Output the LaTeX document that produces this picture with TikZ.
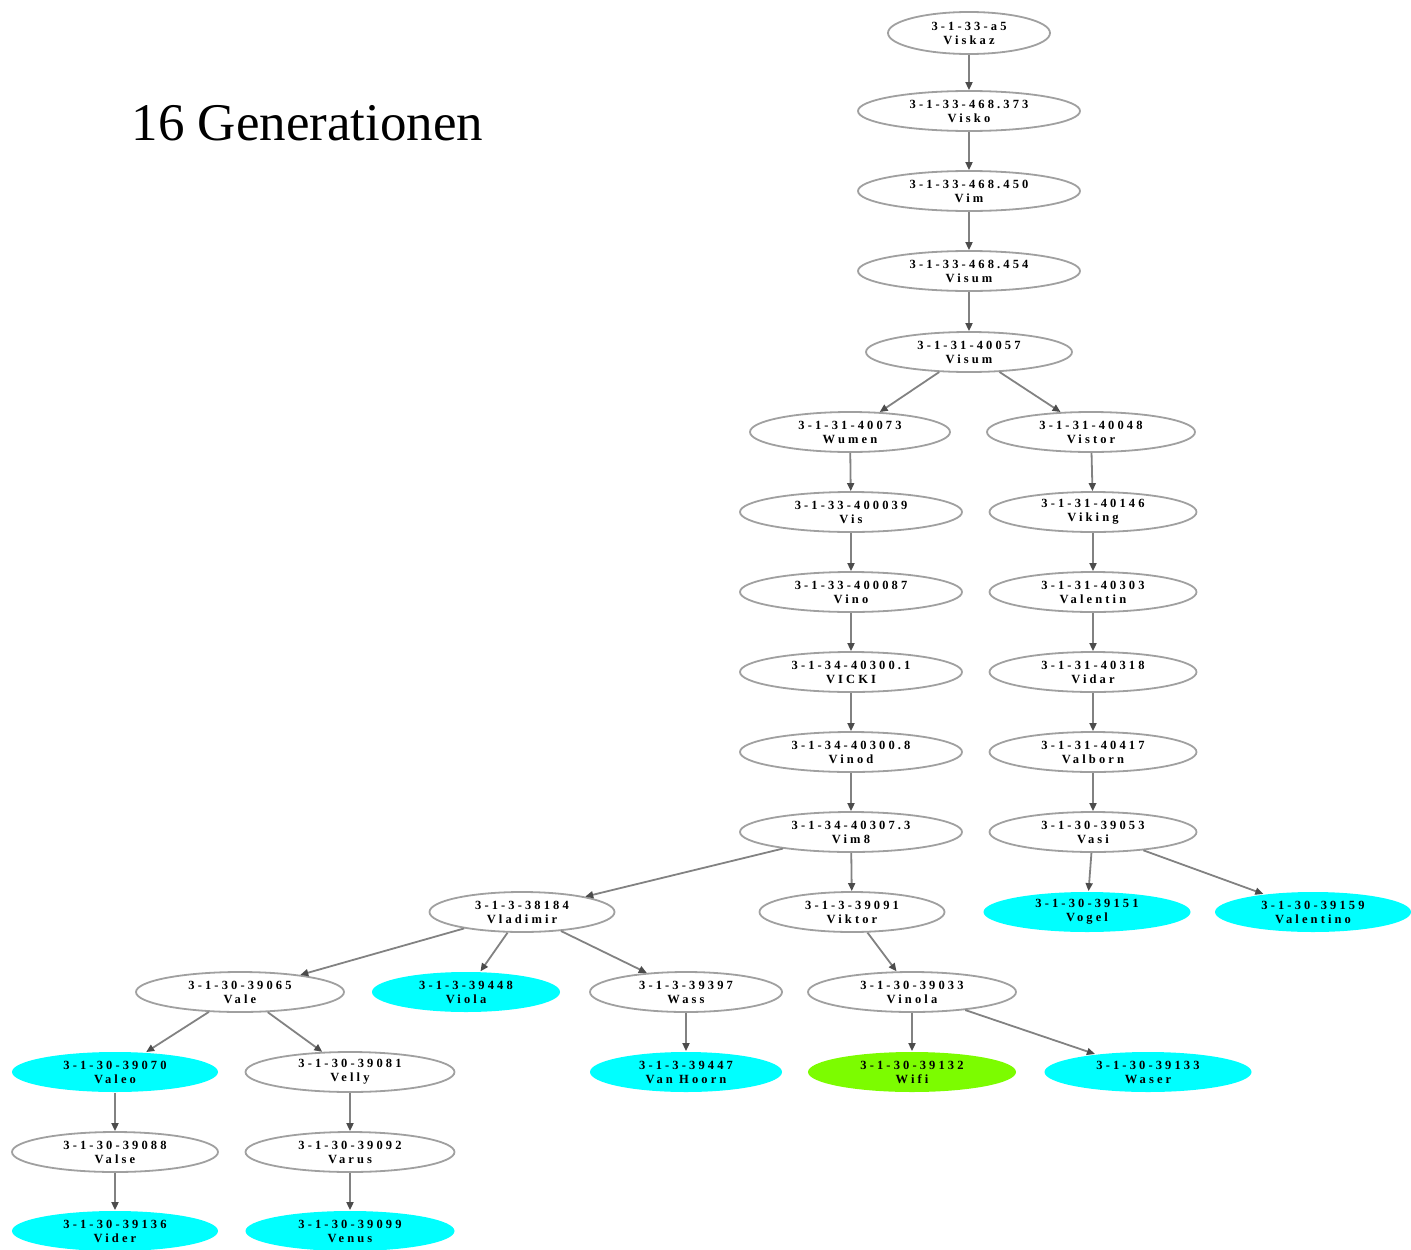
\documentclass[tikz,border=0pt]{standalone}
\usepackage{fontspec}
\setmainfont{Liberation Serif}
\newfontfamily\nf[LetterSpace=25]{Liberation Serif}
\usetikzlibrary{shapes.geometric,arrows.meta}
\definecolor{lcyan}{RGB}{0,255,255}
\definecolor{lgreen}{RGB}{124,252,0}
\definecolor{egray}{RGB}{130,130,130}
\definecolor{bgray}{RGB}{160,160,160}
\begin{document}
\begin{tikzpicture}[x=1pt,y=-1pt,
  ell/.style={ellipse, draw=bgray, line width=1.8pt, minimum height=40pt, inner sep=0pt,
    align=center, font=\nf\bfseries\fontsize{12.5}{14}\selectfont},
  leaf/.style={ell, draw=none, fill=lcyan},
  gleaf/.style={ell, draw=none, fill=lgreen},
  edge/.style={draw=egray, line width=1.8pt, -{Triangle[length=8pt,width=7pt,color=black!70]}}]
\useasboundingbox (0,0) rectangle (1411,1250);
\node[anchor=base west, font=\fontsize{53}{60}\selectfont] (title) at (128,140) {16 Generationen};
% main chain
\node[ell, minimum width=162pt, minimum height=42pt] (a1) at (969,33) {3-1-33-a5\\Viskaz};
\node[ell, minimum width=222pt] (a2) at (969,111) {3-1-33-468.373\\Visko};
\node[ell, minimum width=222pt] (a3) at (969,191) {3-1-33-468.450\\Vim};
\node[ell, minimum width=222pt] (a4) at (969,271) {3-1-33-468.454\\Visum};
\node[ell, minimum width=206pt] (a5) at (969,352) {3-1-31-40057\\Visum};
% left branch
\node[ell, minimum width=200pt] (l1) at (850,432) {3-1-31-40073\\Wumen};
\node[ell, minimum width=222pt] (l2) at (851,512) {3-1-33-400039\\Vis};
\node[ell, minimum width=222pt] (l3) at (851,592) {3-1-33-400087\\Vino};
\node[ell, minimum width=222pt] (l4) at (851,672) {3-1-34-40300.1\\VICKI};
\node[ell, minimum width=222pt] (l5) at (851,752) {3-1-34-40300.8\\Vinod};
\node[ell, minimum width=222pt] (l6) at (851,832) {3-1-34-40307.3\\Vim8};
% right branch
\node[ell, minimum width=208pt] (r1) at (1091,432) {3-1-31-40048\\Vistor};
\node[ell, minimum width=207pt] (r2) at (1093,512) {3-1-31-40146\\Viking};
\node[ell, minimum width=207pt] (r3) at (1093,592) {3-1-31-40303\\Valentin};
\node[ell, minimum width=207pt] (r4) at (1093,672) {3-1-31-40318\\Vidar};
\node[ell, minimum width=207pt] (r5) at (1093,752) {3-1-31-40417\\Valborn};
\node[ell, minimum width=207pt] (r6) at (1093,832) {3-1-30-39053\\Vasi};
\node[leaf, minimum width=207pt] (r7) at (1087,912) {3-1-30-39151\\Vogel};
\node[leaf, minimum width=196pt] (r8) at (1313,912) {3-1-30-39159\\Valentino};
% lower part
\node[ell, minimum width=185pt] (b1) at (522,912) {3-1-3-38184\\Vladimir};
\node[ell, minimum width=185pt] (b2) at (852,912) {3-1-3-39091\\Viktor};
\node[ell, minimum width=208pt] (c1) at (240,992) {3-1-30-39065\\Vale};
\node[leaf, minimum width=188pt] (c2) at (466,992) {3-1-3-39448\\Viola};
\node[ell, minimum width=192pt] (c3) at (686,992) {3-1-3-39397\\Wass};
\node[ell, minimum width=208pt] (c4) at (912,992) {3-1-30-39033\\Vinola};
\node[leaf, minimum width=206pt] (d1) at (115,1072) {3-1-30-39070\\Valeo};
\node[ell, minimum width=209pt] (d2) at (350,1072) {3-1-30-39081\\Velly};
\node[leaf, minimum width=192pt] (d3) at (686,1072) {3-1-3-39447\\Van Hoorn};
\node[gleaf, minimum width=208pt] (d4) at (912,1072) {3-1-30-39132\\Wifi};
\node[leaf, minimum width=207pt] (d5) at (1148,1072) {3-1-30-39133\\Waser};
\node[ell, minimum width=206pt] (e1) at (115,1152) {3-1-30-39088\\Valse};
\node[ell, minimum width=209pt] (e2) at (350,1152) {3-1-30-39092\\Varus};
\node[leaf, minimum width=206pt] (f1) at (115,1231) {3-1-30-39136\\Vider};
\node[leaf, minimum width=209pt] (f2) at (350,1231) {3-1-30-39099\\Venus};
% edges
\foreach \s/\t in {a1/a2,a2/a3,a3/a4,a4/a5,a5/l1,a5/r1,l1/l2,l2/l3,l3/l4,l4/l5,l5/l6,
  r1/r2,r2/r3,r3/r4,r4/r5,r5/r6,r6/r7,r6/r8,l6/b1,l6/b2,b1/c1,b1/c2,b1/c3,b2/c4,
  c1/d1,c1/d2,c3/d3,c4/d4,c4/d5,d1/e1,d2/e2,e1/f1,e2/f2}
  \draw[edge] (\s) -- (\t);
\end{tikzpicture}
\end{document}
